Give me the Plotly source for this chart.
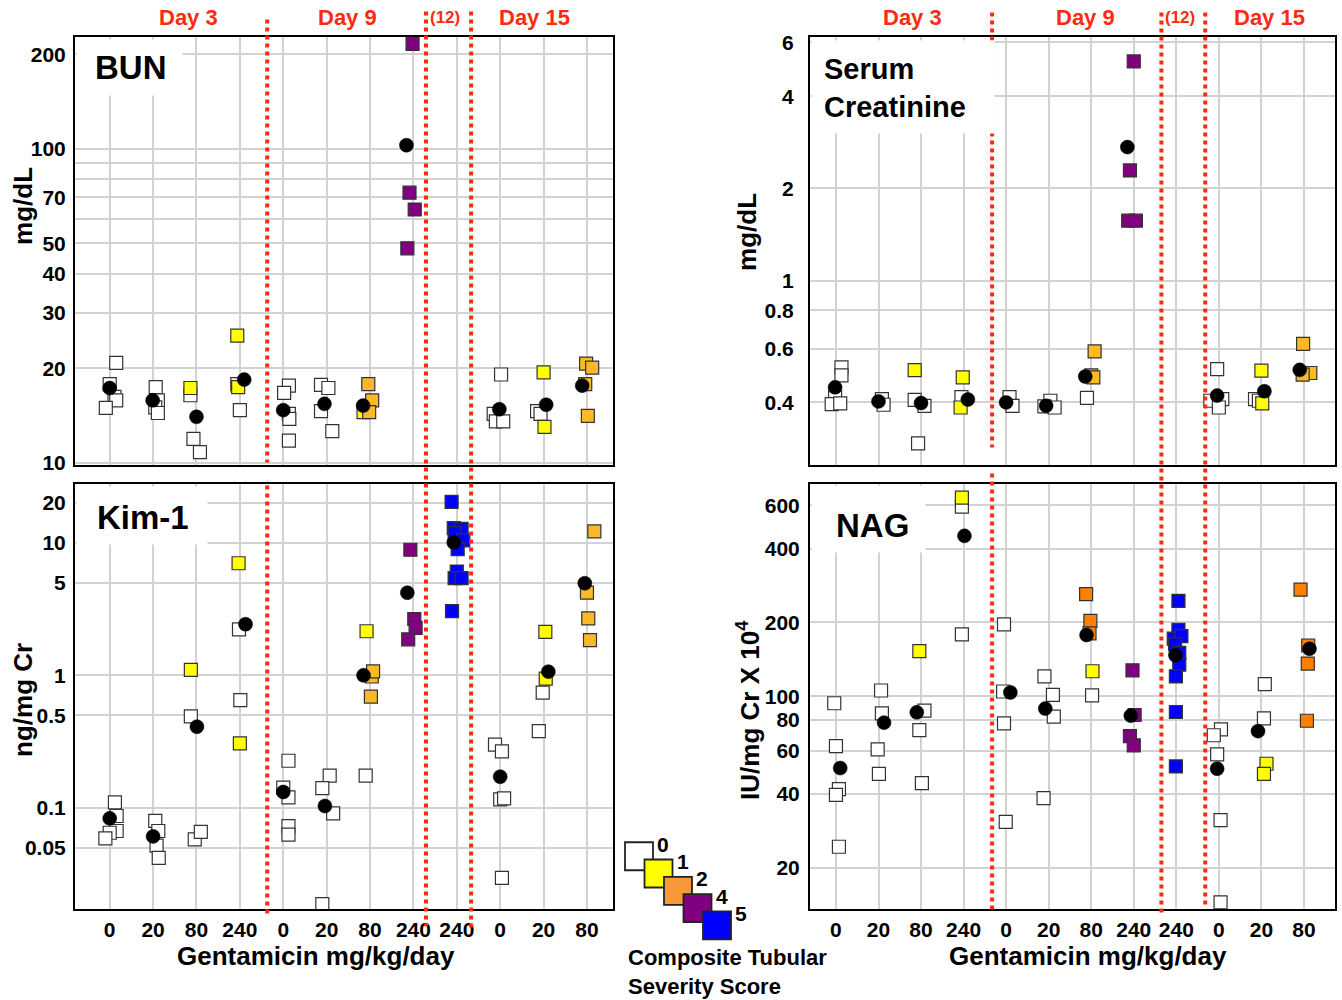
import plotly.graph_objects as go
import math

# ---------------- data ----------------
x_labels = ["0", "20", "80", "240", "0", "20", "80", "240", "240", "0", "20", "80"]
legend_scores = [0, 1, 2, 4, 5]

# BUN (mg/dL)
bun_group = [0,0,0,0,0, 1,1,1,1, 2,2,2,2, 3,3,3,3, 4,4,4,4,4, 5,5,5,5, 6,6,6,6, 7,7,7,7, 9,9,9,9, 10,10,10,10, 11,11,11,11]
bun_offset = [0,0.15,0.11,0.15,-0.09, 0.06,0.11,0.05,0.11, -0.14,-0.14,-0.07,0.08, -0.06,-0.04,-0.06,0, 0.13,0.02,0.13,0.14,0.13,
              -0.13,0.04,-0.13,0.13, -0.15,-0.04,0.05,-0.02, -0.02,-0.09,0.03,-0.14, 0.02,-0.15,-0.1,0.07, 0,-0.15,-0.07,0.02,
              -0.02,0.12,-0.04,0.02]
bun_value = [17.8,20.8,16.2,15.8,14.95, 17.4,15.8,15.0,14.4, 17.3,16.4,11.9,10.8, 25.4,17.4,17.8,14.7, 17.6,16.7,14.3,13.8,11.75,
             17.7,17.3,14.6,12.6, 14.5,17.8,15.8,14.5, 216,72.5,64.1,48.2, 19.1,14.3,13.55,13.55, 19.4,14.6,14.3,13.0,
             20.7,20.1,17.8,14.1]
bun_score = [0,0,0,0,0, 0,0,0,0, 1,0,0,0, 1,1,0,0, 0,0,0,0,0, 0,0,0,0, 1,2,2,2, 4,4,4,4, 0,0,0,0, 1,0,0,1, 2,2,2,2]
bun_mean_group = [0, 1, 2, 3, 4, 5, 6, 7, 9, 10, 11]
bun_mean_offset = [0, -0.01, 0.0, 0.1, 0, -0.05, -0.16, -0.16, -0.02, 0.06, -0.11]
bun_mean_value = [17.3, 15.8, 14.0, 18.4, 14.7, 15.4, 15.2, 102.7, 14.8, 15.3, 17.6]

# Serum creatinine (mg/dL)
cr_group = [0,0,0,0,0, 1,1, 2,2,2,2, 3,3,3, 4,4, 5,5,5, 6,6,6,6, 7,7,7,7, 9,9,9,9, 10,10,10,10, 11,11,11]
cr_offset = [0.13,0.13,-0.02,-0.1,0.1, 0.08,0.12, -0.15,-0.15,0.08,-0.07, -0.05,-0.02,-0.07, 0.08,0.15, 0.04,-0.1,0.14,
             0.08,0,0.05,-0.1, 0,-0.09,-0.13,0.05, -0.04,0.08,-0.2,0, -0.15,-0.06,0,0.02, -0.02,0.15,-0.03]
cr_value = [0.521,0.49,0.416,0.395,0.397, 0.41,0.393, 0.51,0.408,0.39,0.294, 0.416,0.483,0.385, 0.416,0.39, 0.405,0.388,0.385,
            0.587,0.49,0.483,0.414, 5.2,2.29,1.57,1.57, 0.514,0.41,0.405,0.385, 0.41,0.405,0.508,0.397, 0.621,0.499,0.493]
cr_score = [0,0,0,0,0, 0,0, 1,0,0,0, 0,1,1, 0,0, 0,0,0, 2,2,2,0, 4,4,4,4, 0,0,0,0, 0,0,1,1, 2,2,2]
cr_mean_group = [0, 1, 2, 3, 4, 5, 6, 7, 9, 10, 11]
cr_mean_offset = [-0.02, 0, 0, 0.1, 0, -0.06, -0.14, -0.15, -0.04, 0.07, -0.1]
cr_mean_value = [0.448, 0.403, 0.398, 0.409, 0.40, 0.39, 0.486, 2.73, 0.421, 0.435, 0.511]

# Kim-1 (ng/mg Cr)
kim_group = [0,0,0,0,0, 1,1,1,1, 2,2,2,2, 3,3,3,3, 4,4,4,4,4, 5,5,5,5, 6,6,6,6,6, 7,7,7,7,
             8,8,8,8,8,8,8,8,8,8, 9,9,9,9,9, 10,10,10,10, 11,11,11,11]
kim_offset = [0.12,0.16,0.16,0,-0.1, 0.05,0.12,0.08,0.13, -0.13,-0.13,-0.04,0.1, -0.03,-0.02,0.01,0, 0.12,0,0.12,0.12,0.12,
              0.07,-0.1,0.15,-0.1, -0.08,0.04,0.07,0.02,-0.1, -0.07,0.02,0.05,-0.12,
              -0.12,-0.07,0.11,-0.05,0.15,0.02,0,-0.05,0.11,-0.11, -0.12,0.04,0,0.09,0.04, 0.04,-0.02,-0.11,0.05,
              0.17,0,0.03,0.07]
kim_value = [0.110,0.087,0.067,0.065,0.059, 0.080,0.067,0.052,0.042, 1.10,0.49,0.058,0.066, 7.0,2.22,0.65,0.307,
             0.227,0.1425,0.12,0.073,0.063, 0.175,0.141,0.091,0.0188, 2.15,0.98,1.07,0.69,0.175, 8.85,2.66,2.28,1.87,
             20.3,12.9,12.7,11.8,10.4,8.96,6.07,5.4,5.4,3.05, 0.30,0.267,0.116,0.118,0.0297, 2.13,0.74,0.38,0.944,
             12.2,4.2,2.69,1.84]
kim_score = [0,0,0,0,0, 0,0,0,0, 1,0,0,0, 1,0,0,1, 0,0,0,0,0, 0,0,0,0, 1,2,2,2,0, 4,4,4,4,
             5,5,5,5,5,5,5,5,5,5, 0,0,0,0,0, 1,0,0,1, 2,2,2,2]
kim_mean_group = [0, 1, 2, 3, 4, 5, 6, 7, 8, 9, 10, 11]
kim_mean_offset = [0, 0, 0.01, 0.13, 0, -0.04, -0.15, -0.14, -0.07, 0, 0.11, -0.05]
kim_mean_value = [0.0835, 0.061, 0.41, 2.43, 0.132, 0.1035, 1.0, 4.2, 10.05, 0.172, 1.066, 4.95]

# NAG (IU/mg Cr x 10^4)
nag_group = [0,0,0,0,0, 1,1,1,1, 2,2,2,2, 3,3,3, 4,4,4,4, 5,5,5,5, 6,6,6,6,6, 7,7,7,7,
             8,8,8,8,8,8,8,8,8,8, 9,9,9,9,9, 10,10,10,10, 11,11,11,11]
nag_offset = [-0.04,0,0.07,0,0.07, 0.06,0.08,-0.02,0.01, -0.04,0.08,-0.04,0.02, -0.04,-0.04,-0.04, -0.05,-0.07,-0.05,-0.01,
              -0.1,0.1,0.12,-0.12, -0.12,-0.02,-0.04,0.03,0.02, -0.03,0.02,-0.09,0,
              0.05,0.05,-0.06,0.12,-0.03,0.07,0.07,-0.01,-0.01,-0.01, 0.05,-0.12,-0.04,0.04,0.04, 0.08,0.06,0.12,0.06,
              -0.08,0.1,0.09,0.07]
nag_value = [93.6,62.5,41.8,39.6,24.3, 105.5,85.1,60.7,48.2, 152.7,87.3,72.7,44.2, 594,646,178.7, 196.5,104.5,77.4,30.7,
             120.5,101.3,82.5,38.4, 261,203,180.4,126.4,100.7, 127.5,83.8,68.7,63.0,
             245,186.3,171.7,176,162.6,150.3,134.6,120.5,86.2,51.7, 73.2,69.3,57.9,31.2,14.4, 112,81.2,53.0,48.2,
             272,161,135.8,79.4]
nag_score = [0,0,0,0,0, 0,0,0,0, 1,0,0,0, 0,1,0, 0,0,0,0, 0,0,0,0, 2,2,2,1,0, 4,4,4,4,
             5,5,5,5,5,5,5,5,5,5, 0,0,0,0,0, 0,0,1,1, 2,2,2,2]
nag_mean_group = [0, 1, 2, 3, 4, 5, 6, 7, 8, 9, 10, 11]
nag_mean_offset = [0.1, 0.13, -0.1, 0.02, 0.1, -0.08, -0.11, -0.07, -0.02, -0.04, -0.08, 0.13]
nag_mean_value = [50.9, 78, 85.9, 451, 103.6, 89, 177.7, 83.3, 147, 50.6, 72, 156.1]

# ---------------- styling ----------------
W, H = 1342, 1000
FONT = "Liberation Sans, Arial, Helvetica, sans-serif"
RED = "#ff2a10"
GRID = "#d2d2d2"
colors = {0: "#ffffff", 1: "#ffff00", 2: "#fbb829", 4: "#800080", 5: "#0000ff"}
nag_colors = dict(colors)
nag_colors[2] = "#ff7f00"
legend_colors = dict(colors)
legend_colors[2] = "#f8983a"

# vertical layout correction (page is captured slightly offset/compressed vertically)
Y_OFF, Y_SCALE = 6.5, 0.983


def px(p):
    return p / W


def py(p):
    return 1 - ((p - Y_OFF) / Y_SCALE) / H


def ph(h):
    return h / Y_SCALE


fig = go.Figure()

panels = [
    ("x", "y", bun_group, bun_offset, bun_value, bun_score, bun_mean_group, bun_mean_offset, bun_mean_value, colors),
    ("x2", "y2", cr_group, cr_offset, cr_value, cr_score, cr_mean_group, cr_mean_offset, cr_mean_value, colors),
    ("x3", "y3", kim_group, kim_offset, kim_value, kim_score, kim_mean_group, kim_mean_offset, kim_mean_value, colors),
    ("x4", "y4", nag_group, nag_offset, nag_value, nag_score, nag_mean_group, nag_mean_offset, nag_mean_value, nag_colors),
]

for xa, ya, g, off, val, sc, mg, mo, mv, cmap in panels:
    for s in legend_scores:
        xs = [gi + oi for gi, oi, si in zip(g, off, sc) if si == s]
        ys = [vi for vi, si in zip(val, sc) if si == s]
        if not xs:
            continue
        fig.add_trace(go.Scatter(x=xs, y=ys, mode="markers", xaxis=xa, yaxis=ya,
                                 marker=dict(symbol="square", size=13, color=cmap[s],
                                             line=dict(color="#333333", width=1.2)),
                                 hoverinfo="skip", showlegend=False))
    fig.add_trace(go.Scatter(x=[a + b for a, b in zip(mg, mo)], y=mv, mode="markers", xaxis=xa, yaxis=ya,
                             marker=dict(symbol="circle", size=14, color="black",
                                         line=dict(color="black", width=0.5)),
                             hoverinfo="skip", showlegend=False))

# legend squares (own invisible axes)
fig.add_trace(go.Scatter(x=list(range(len(legend_scores))), y=list(range(len(legend_scores))), mode="markers",
                         xaxis="x5", yaxis="y5",
                         marker=dict(symbol="square", size=28, color=[legend_colors[s] for s in legend_scores],
                                     line=dict(color="#222222", width=1.8)),
                         hoverinfo="skip", showlegend=False))

tickfont = dict(family=FONT, size=21, color="black", weight="bold")

L0, L1, R0, R1 = 75, 613, 810, 1335
T0, T1, B0, B1 = 37, 465, 484, 908
left_dom = [px(L0), px(L1)]
right_dom = [px(R0), px(R1)]
top_dom = [py(T1), py(T0)]
bot_dom = [py(B1), py(B0)]


def xaxis(domain, rng, anchor, labels):
    return dict(domain=domain, range=rng, anchor=anchor, tickvals=list(range(12)), ticktext=x_labels,
                showticklabels=labels, ticks="", showgrid=True, gridcolor=GRID, gridwidth=1.5,
                showline=True, linecolor="black", linewidth=2, mirror=True, zeroline=False,
                tickfont=tickfont, fixedrange=True)


def yaxis(domain, lo, hi, anchor, tv, minor=None, standoff=3):
    d = dict(domain=domain, type="log", range=[math.log10(lo), math.log10(hi)], anchor=anchor,
             tickvals=tv, ticktext=[("%g" % v) for v in tv], ticks="", showgrid=True, gridcolor=GRID, gridwidth=1.5,
             showline=True, linecolor="black", linewidth=2, mirror=True, zeroline=False,
             tickfont=tickfont, fixedrange=True, ticklabelstandoff=standoff)
    if minor:
        d["minor"] = dict(tickvals=minor, showgrid=True, gridcolor=GRID, gridwidth=1.5, ticks="")
    return d


fig.update_layout(
    width=W, height=H, margin=dict(l=0, r=0, t=0, b=0),
    paper_bgcolor="white", plot_bgcolor="white", showlegend=False,
    font=dict(family=FONT, color="black"),
    xaxis=xaxis(left_dom, [-0.8, 11.6], "y", False),
    yaxis=yaxis(top_dom, 9.8, 228, "x", [10, 20, 30, 40, 50, 70, 100, 200], minor=[60, 80, 90]),
    xaxis2=xaxis(right_dom, [-0.61, 11.73], "y2", False),
    yaxis2=yaxis(top_dom, 0.249, 6.27, "x2", [0.4, 0.6, 0.8, 1, 2, 4, 6], standoff=10),
    xaxis3=xaxis(left_dom, [-0.8, 11.6], "y3", True),
    yaxis3=yaxis(bot_dom, 0.0172, 27.5, "x3", [0.05, 0.1, 0.5, 1, 5, 10, 20]),
    xaxis4=xaxis(right_dom, [-0.61, 11.73], "y4", True),
    yaxis4=yaxis(bot_dom, 13.5, 731, "x4", [20, 40, 60, 80, 100, 200, 400, 600], standoff=4),
    xaxis5=dict(domain=[px(620), px(740)], range=[-0.974, 5.179], visible=False, anchor="y5", fixedrange=True),
    yaxis5=dict(domain=[py(945), py(835)], range=[5.217, -1.159], visible=False, anchor="x5", fixedrange=True),
)

# red dotted dividers
dividers = [
    ("x", 3.63, 20, 462), ("x", 3.63, 485, 913), ("x", 7.29, 12, 925), ("x", 8.33, 12, 927),
    ("x2", 3.67, 13, 447), ("x2", 3.67, 473, 910), ("x2", 7.65, 13, 913), ("x2", 8.68, 13, 907),
]
for xr, xv, y0, y1 in dividers:
    fig.add_shape(type="line", xref=xr, yref="paper", x0=xv, x1=xv, y0=py(y0), y1=py(y1),
                  line=dict(color=RED, width=4, dash="4px,4px"))

ann = []
# white boxes behind the panel names (interrupt the gridlines)
boxes = [(76, 39, 181, 93), (76, 486, 206, 542), (811, 40, 993, 130), (811, 485, 924, 550)]
for x0, y0, x1, y1 in boxes:
    ann.append(dict(xref="paper", yref="paper", x=px(x0), y=py(y0), xanchor="left", yanchor="top",
                    width=x1 - x0, height=ph(y1 - y0), text="\u00a0", bgcolor="white", borderpad=0,
                    showarrow=False))

# day headers
headers = [
    ("x", 1.81, "Day 3", 22), ("x", 5.47, "Day 9", 22), ("x", 7.72, "(12)", 17), ("x", 9.78, "Day 15", 22),
    ("x2", 1.79, "Day 3", 22), ("x2", 5.87, "Day 9", 22), ("x2", 8.09, "(12)", 17), ("x2", 10.2, "Day 15", 22),
]
for xr, xv, t, fs in headers:
    ann.append(dict(xref=xr, yref="paper", x=xv, y=py(18), text=t, showarrow=False, xanchor="center",
                    yanchor="middle", font=dict(family=FONT, size=fs, color=RED, weight="bold")))

labels = [(93, 68, "BUN", 33), (95, 517, "Kim-1", 33), (822, 88, "Serum<br>Creatinine", 29), (834, 525, "NAG", 33)]
for x0, yc, t, fs in labels:
    ann.append(dict(xref="paper", yref="paper", x=px(x0), y=py(yc), xanchor="left", yanchor="middle",
                    text=t, align="left", showarrow=False,
                    font=dict(family=FONT, size=fs, color="black", weight="bold")))

# axis titles
ytitles = [(23, 206, "mg/dL"), (23, 699, "ng/mg Cr"), (747, 232, "mg/dL"), (749, 709, "IU/mg Cr X 10<sup>4</sup>")]
for xc, yc, t in ytitles:
    ann.append(dict(xref="paper", yref="paper", x=px(xc), y=py(yc), text=t, textangle=-90, showarrow=False,
                    xanchor="center", yanchor="middle",
                    font=dict(family=FONT, size=26, color="black", weight="bold")))
for xc in (316, 1088):
    ann.append(dict(xref="paper", yref="paper", x=px(xc), y=py(955), text="Gentamicin mg/kg/day", showarrow=False,
                    xanchor="center", yanchor="middle",
                    font=dict(family=FONT, size=26, color="black", weight="bold")))

# legend numbers and caption
for i, s in enumerate(legend_scores):
    ann.append(dict(xref="x5", yref="y5", x=i, y=i, text=str(s), showarrow=False, xshift=24, yshift=12,
                    font=dict(family=FONT, size=21, color="black", weight="bold")))
ann.append(dict(xref="paper", yref="paper", x=px(626), y=py(971), text="Composite Tubular<br>Severity Score",
                xanchor="left", yanchor="middle", align="left", showarrow=False,
                font=dict(family=FONT, size=22, color="black", weight="bold")))

fig.update_layout(annotations=ann)
fig.write_html(
    "out.html",
    config={"displayModeBar": False},
    post_script=("document.documentElement.style.margin='0px';document.body.style.margin='0px';"
                 "document.documentElement.style.overflow='hidden';document.body.style.overflow='hidden';"),
)
